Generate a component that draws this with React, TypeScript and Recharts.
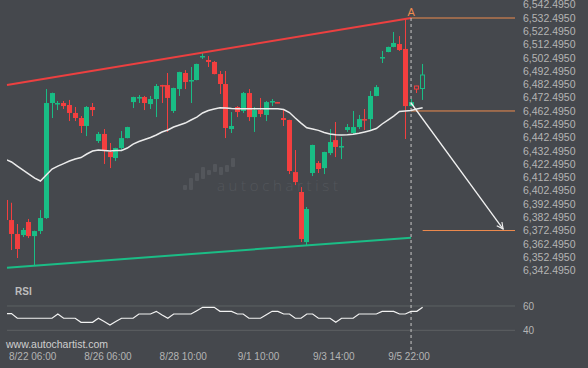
import React from 'react';
import { ComposedChart, Bar, Line, XAxis, YAxis, ReferenceLine, ReferenceDot } from 'recharts';

const BG = '#45484d';
const UP = '#19bd85';
const DOWN = '#f33f3f';
const ORANGE = '#ee8b4e';
const AXIS_TEXT = '#b4b4b4';
const FONT = '"Liberation Sans", Arial, sans-serif';

const opens = [6395.5, 6380.4, 6369.9, 6369.1, 6378.9, 6368.3, 6372.1, 6381.9, 6468.5, 6467.7, 6468.5, 6467.0, 6461.0, 6457.2, 6451.2, 6465.5, 6439.9, 6445.2, 6431.6, 6427.1, 6434.6, 6442.1, 6469.2, 6472.3, 6473.0, 6467.7, 6471.5, 6482.0, 6482.0, 6462.5, 6479.0, 6491.1, 6485.1, 6485.8, 6503.5, 6500.9, 6499.4, 6490.3, 6482.8, 6448.9, 6465.5, 6462.5, 6476.0, 6457.9, 6463.2, 6459.5, 6469.6, 6469.2, 6457.2, 6455.7, 6416.5, 6401.5, 6363.8, 6415.8, 6423.3, 6419.5, 6430.8, 6440.6, 6435.7, 6448.2, 6445.9, 6450.4, 6456.4, 6456.4, 6473.8, 6502.4, 6506.9, 6510.7, 6512.9, 6509.2, 6466.2, 6481.3, 6479.4];
const highs = [6396.0, 6393.4, 6377.4, 6374.4, 6381.2, 6372.4, 6387.9, 6479.0, 6476.3, 6470.0, 6470.0, 6470.8, 6465.5, 6458.7, 6466.2, 6468.5, 6446.7, 6448.9, 6438.4, 6434.8, 6447.4, 6450.6, 6473.2, 6474.5, 6473.8, 6473.8, 6482.8, 6482.2, 6491.1, 6480.0, 6492.0, 6493.3, 6495.6, 6498.1, 6506.1, 6503.9, 6500.1, 6492.6, 6492.6, 6461.7, 6466.2, 6476.8, 6479.0, 6465.5, 6472.3, 6470.0, 6471.5, 6469.3, 6464.0, 6455.9, 6433.1, 6405.2, 6390.2, 6437.1, 6424.8, 6431.8, 6448.9, 6454.2, 6442.9, 6452.7, 6462.5, 6459.5, 6464.0, 6477.5, 6482.0, 6507.7, 6510.9, 6522.0, 6518.9, 6532.5, 6471.5, 6481.5, 6497.9];
const lows = [6380.0, 6357.8, 6351.8, 6367.6, 6366.8, 6345.8, 6369.9, 6381.2, 6457.2, 6463.2, 6464.0, 6454.9, 6454.9, 6445.9, 6443.6, 6458.7, 6438.4, 6422.6, 6419.5, 6424.8, 6432.3, 6441.9, 6464.7, 6468.5, 6463.2, 6464.0, 6457.9, 6468.5, 6446.7, 6461.0, 6473.8, 6479.0, 6468.5, 6485.6, 6501.6, 6495.6, 6490.1, 6475.3, 6442.1, 6445.9, 6457.9, 6461.0, 6454.9, 6446.7, 6457.9, 6454.9, 6466.2, 6468.4, 6451.2, 6415.0, 6406.7, 6363.8, 6361.6, 6413.5, 6415.8, 6415.0, 6429.3, 6427.8, 6426.3, 6446.7, 6445.2, 6448.9, 6448.2, 6448.2, 6473.6, 6498.6, 6506.7, 6510.5, 6507.7, 6441.4, 6466.0, 6476.0, 6470.8];
const closes = [6380.4, 6369.9, 6358.6, 6372.9, 6368.3, 6372.1, 6381.9, 6468.5, 6476.0, 6468.5, 6466.2, 6461.0, 6457.2, 6451.2, 6465.5, 6463.2, 6445.2, 6433.1, 6427.8, 6434.6, 6442.1, 6450.4, 6473.0, 6473.0, 6468.5, 6471.5, 6481.3, 6481.3, 6472.3, 6479.8, 6491.8, 6484.3, 6485.8, 6497.9, 6503.9, 6499.4, 6490.3, 6482.8, 6449.7, 6451.2, 6461.7, 6476.0, 6457.9, 6463.2, 6460.2, 6469.2, 6470.0, 6468.5, 6455.7, 6417.3, 6409.0, 6366.1, 6388.7, 6436.9, 6418.8, 6431.6, 6439.1, 6435.4, 6436.1, 6450.4, 6450.4, 6456.4, 6455.7, 6473.8, 6480.5, 6503.1, 6510.7, 6513.7, 6508.4, 6466.2, 6469.2, 6479.0, 6489.6];
const maValues = [6426.0, 6424.1, 6421.0, 6418.0, 6415.0, 6412.0, 6409.8, 6414.3, 6418.8, 6421.0, 6422.9, 6424.8, 6426.3, 6427.4, 6430.1, 6432.3, 6433.1, 6432.7, 6432.3, 6432.7, 6432.7, 6434.6, 6437.6, 6439.5, 6441.0, 6442.5, 6444.4, 6446.7, 6448.2, 6450.4, 6451.9, 6453.4, 6455.7, 6457.9, 6461.0, 6462.8, 6464.0, 6464.9, 6464.7, 6464.3, 6464.2, 6464.2, 6464.2, 6464.2, 6464.2, 6464.2, 6464.2, 6464.2, 6463.6, 6461.3, 6457.2, 6453.4, 6449.9, 6448.9, 6447.9, 6446.3, 6445.2, 6444.6, 6444.4, 6444.6, 6444.9, 6445.7, 6446.7, 6447.8, 6449.3, 6452.7, 6455.7, 6458.7, 6462.1, 6462.5, 6462.8, 6464.0, 6464.9];
const rsiValues = [53.7, 53.7, 49.9, 49.9, 49.9, 49.9, 49.9, 49.9, 49.9, 53.4, 49.9, 49.9, 49.9, 46.6, 46.6, 46.6, 49.9, 47.2, 44.4, 47.2, 49.9, 49.9, 49.9, 53.4, 53.4, 53.4, 55.6, 52.6, 49.9, 53.4, 53.4, 53.4, 53.4, 56.1, 58.9, 58.9, 58.9, 55.6, 55.6, 55.6, 53.4, 53.4, 49.9, 49.9, 49.9, 52.8, 55.6, 55.6, 53.4, 53.4, 49.9, 49.9, 53.4, 53.4, 49.9, 49.9, 49.9, 46.6, 49.9, 49.9, 49.9, 53.4, 53.4, 53.4, 53.4, 55.6, 55.6, 55.6, 53.4, 53.4, 55.6, 55.6, 58.9];

const priceTicks = [6342.495, 6352.495, 6362.495, 6372.495, 6382.495, 6392.495, 6402.495, 6412.495, 6422.495, 6432.495, 6442.495, 6452.495, 6462.495, 6472.495, 6482.495, 6492.495, 6502.495, 6512.495, 6522.495, 6532.495, 6542.495];
const rsiTicks = [40, 60];
const timeLabels = ['8/22 06:00', '8/26 06:00', '8/28 10:00', '9/1 10:00', '9/3 14:00', '9/5 22:00'];
const timeLabelIndex = [5, 18, 31, 44, 57, 70];

const signalIndex = 70;
const levelA = 6532.495;
const levelEntry = 6462.495;
const levelTarget = 6372.495;
const upperTrend = [6482.0, 6532.5];
const lowerTrend = [6344.5, 6367.1];
const arrowFrom = { k: 70, price: 6468.5 };
const arrowTo = { k: 85.9, price: 6373.6 };
const targetStart = 72;

const X_DOMAIN: [number, number] = [0.22, 87.95];
const PRICE_DOMAIN: [number, number] = [6335.25, 6546.05];
const RSI_DOMAIN: [number, number] = [23.79, 79.75];

const data = opens.map((o, k) => ({
  k,
  o,
  h: highs[k],
  l: lows[k],
  c: closes[k],
  ma: maValues[k],
  rsi: rsiValues[k],
  hollow: k > signalIndex,
}));

const fmtPrice = (v: number) =>
  v.toLocaleString('en-US', { minimumFractionDigits: 4, maximumFractionDigits: 4 });

const Candle = (props: any) => {
  const { x, y, width, height } = props;
  const p = props.payload || props;
  if (x == null || y == null) return null;
  const top = Math.min(y, y + height);
  const h = Math.abs(height);
  const range = p.h - p.l || 1;
  const toY = (v: number) => top + ((p.h - v) / range) * h;
  const up = p.c >= p.o;
  const color = up ? UP : DOWN;
  const bTop = toY(Math.max(p.o, p.c));
  const bBot = toY(Math.min(p.o, p.c));
  const bh = Math.max(1.5, bBot - bTop);
  const cx = Math.round(x + width / 2);
  return (
    <g>
      <line x1={cx + 0.5} x2={cx + 0.5} y1={top} y2={top + h} stroke={color} strokeWidth={1} />
      {p.hollow ? (
        <rect x={cx - 2 + 0.5} y={bTop} width={4} height={bh} fill={BG} stroke={color} strokeWidth={1} />
      ) : (
        <rect x={cx - 2} y={bTop} width={5} height={bh} fill={color} />
      )}
    </g>
  );
};

const ArrowShape = (p: any) => (
  <line x1={p.x1} y1={p.y1} x2={p.x2} y2={p.y2} stroke="#f2f2f2" strokeWidth={1.3} markerEnd="url(#arrowHead)" />
);

export default function App() {
  return (
    <div style={{ position: 'fixed', left: 0, top: 0, width: 588, height: 368, background: BG, overflow: 'hidden', fontFamily: FONT }}>
      <svg width={588} height={368} style={{ position: 'absolute', left: 0, top: 0 }}>
        <g fill="#53565b">
          <rect x={183} y={185} width={4} height={5} rx={1} />
          <rect x={189} y={178} width={4} height={12} rx={1} />
          <rect x={195} y={173} width={4} height={8} rx={1} />
          <rect x={201} y={167} width={4} height={12} rx={1} />
          <rect x={207} y={170} width={4} height={5} rx={1} />
          <rect x={213} y={164} width={4} height={8} rx={1} />
          <rect x={219} y={167} width={4} height={8} rx={1} />
          <rect x={225} y={165} width={4} height={7} rx={1} />
          <rect x={231} y={158} width={4} height={9} rx={1} />
          <text x={217} y={190.5} fontFamily='"Open Sans", sans-serif' fontWeight={300} fontSize={15} textLength={121} lengthAdjust="spacing">autochartist</text>
        </g>
      </svg>
      <div style={{ position: 'absolute', left: 0, top: 0 }}>
        <ComposedChart width={588} height={280} data={data} margin={{ top: 0, right: 0, bottom: 0, left: 7 }} style={{ overflow: 'visible' }}>
          <defs>
            <marker id="arrowHead" viewBox="0 0 10 10" refX="9" refY="5" markerWidth="8" markerHeight="8" markerUnits="userSpaceOnUse" orient="auto">
              <path d="M1,1 L9,5 L1,9" fill="none" stroke="#f2f2f2" strokeWidth={1.4} />
            </marker>
          </defs>
          <XAxis dataKey="k" type="number" domain={X_DOMAIN} allowDataOverflow hide />
          <YAxis
            orientation="right"
            type="number"
            domain={PRICE_DOMAIN}
            allowDataOverflow
            ticks={priceTicks}
            interval={0}
            width={73}
            axisLine={false}
            tickLine={false}
            tickSize={0}
            tickMargin={8}
            tick={{ fill: AXIS_TEXT, fontSize: 10.5, fontFamily: FONT }}
            tickFormatter={fmtPrice}
          />
          <ReferenceLine segment={[{ x: X_DOMAIN[0], y: upperTrend[0] }, { x: signalIndex, y: upperTrend[1] }]} stroke="#ec4040" strokeWidth={2} />
          <ReferenceLine segment={[{ x: X_DOMAIN[0], y: lowerTrend[0] }, { x: signalIndex, y: lowerTrend[1] }]} stroke="#1bbd86" strokeWidth={2} />
          <ReferenceLine segment={[{ x: signalIndex, y: levelA }, { x: X_DOMAIN[1], y: levelA }]} stroke={ORANGE} strokeWidth={1} />
          <ReferenceLine segment={[{ x: signalIndex, y: levelEntry }, { x: X_DOMAIN[1], y: levelEntry }]} stroke={ORANGE} strokeWidth={1} />
          <ReferenceLine segment={[{ x: targetStart, y: levelTarget }, { x: X_DOMAIN[1], y: levelTarget }]} stroke={ORANGE} strokeWidth={1} />
          <ReferenceLine segment={[{ x: signalIndex, y: levelA }, { x: signalIndex, y: PRICE_DOMAIN[0] }]} stroke="#c8c8c8" strokeDasharray="3 3" strokeWidth={1} />
          <Line dataKey="ma" type="linear" stroke="#ebebeb" strokeWidth={1.5} dot={false} activeDot={false} isAnimationActive={false} />
          <Bar dataKey={(d: any) => [d.l, d.h]} barSize={5} shape={Candle} isAnimationActive={false} />
          <ReferenceLine segment={[{ x: arrowFrom.k, y: arrowFrom.price }, { x: arrowTo.k, y: arrowTo.price }]} shape={ArrowShape} />
          <ReferenceDot x={signalIndex} y={levelA} r={0} fill="none" stroke="none" label={{ value: 'A', position: 'top', offset: 2, fill: ORANGE, fontSize: 11, fontFamily: FONT }} />
        </ComposedChart>
      </div>
      <div style={{ position: 'absolute', left: 0, top: 282 }}>
        <ComposedChart width={588} height={86} data={data} margin={{ top: 0, right: 0, bottom: 0, left: 7 }}>
          <XAxis
            dataKey="k"
            type="number"
            domain={X_DOMAIN}
            allowDataOverflow
            ticks={timeLabelIndex}
            interval={0}
            height={18}
            axisLine={false}
            tickLine={false}
            tickSize={0}
            tickMargin={3}
            tick={{ fill: AXIS_TEXT, fontSize: 10, fontFamily: FONT, dx: -2 }}
            tickFormatter={(v: number) => timeLabels[timeLabelIndex.indexOf(v)] ?? ''}
          />
          <YAxis
            orientation="right"
            type="number"
            domain={RSI_DOMAIN}
            allowDataOverflow
            ticks={rsiTicks}
            interval={0}
            width={73}
            axisLine={false}
            tickLine={false}
            tickSize={0}
            tickMargin={8}
            tick={{ fill: AXIS_TEXT, fontSize: 10, fontFamily: FONT }}
          />
          <ReferenceLine y={60} stroke="#5d6163" strokeWidth={1} />
          <ReferenceLine y={40} stroke="#5d6163" strokeWidth={1} />
          <ReferenceLine x={signalIndex} stroke="#c8c8c8" strokeDasharray="3 3" strokeWidth={1} />
          <Line dataKey="rsi" type="linear" stroke="#f2f2f2" strokeWidth={1.2} dot={false} activeDot={false} isAnimationActive={false} />
        </ComposedChart>
      </div>
      <svg width={588} height={368} style={{ position: 'absolute', left: 0, top: 0, pointerEvents: 'none' }}>
        <text x={15} y={295} fill="#bdbdbd" fontSize={10} fontWeight="bold" fontFamily={FONT}>RSI</text>
        <text x={6} y={348} fill="#cfcfcf" fontSize={10.5} fontFamily={FONT}>www.autochartist.com</text>
      </svg>
    </div>
  );
}
